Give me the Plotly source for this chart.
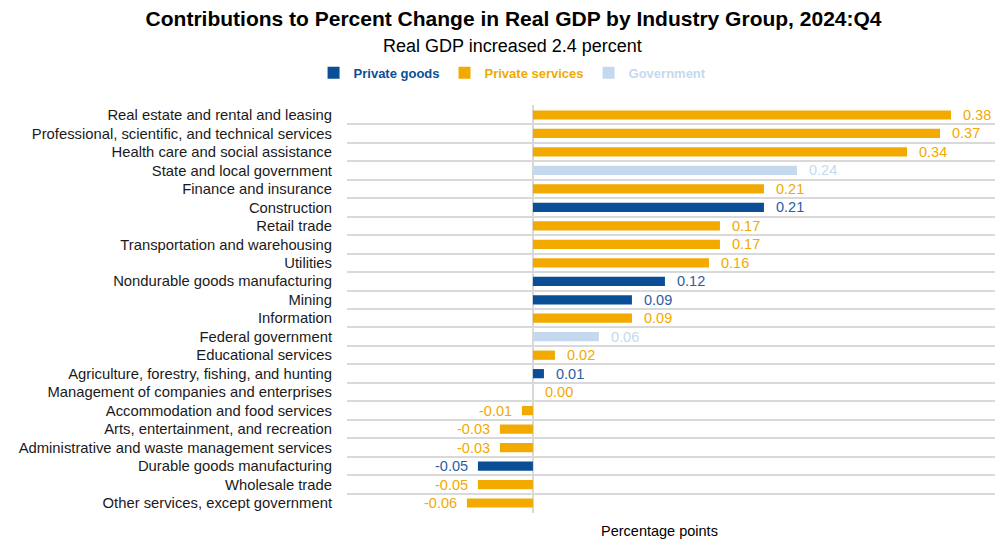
import plotly.graph_objects as go

categories = [
    "Real estate and rental and leasing",
    "Professional, scientific, and technical services",
    "Health care and social assistance",
    "State and local government",
    "Finance and insurance",
    "Construction",
    "Retail trade",
    "Transportation and warehousing",
    "Utilities",
    "Nondurable goods manufacturing",
    "Mining",
    "Information",
    "Federal government",
    "Educational services",
    "Agriculture, forestry, fishing, and hunting",
    "Management of companies and enterprises",
    "Accommodation and food services",
    "Arts, entertainment, and recreation",
    "Administrative and waste management services",
    "Durable goods manufacturing",
    "Wholesale trade",
    "Other services, except government",
]
values = [0.38, 0.37, 0.34, 0.24, 0.21, 0.21, 0.17, 0.17, 0.16, 0.12, 0.09, 0.09,
          0.06, 0.02, 0.01, 0.00, -0.01, -0.03, -0.03, -0.05, -0.05, -0.06]
groups = ["S", "S", "S", "G", "S", "P", "S", "S", "S", "P", "P", "S",
          "G", "S", "P", "S", "S", "S", "S", "P", "S", "S"]

group_names = {"P": "Private goods", "S": "Private services", "G": "Government"}
bar_colors = {"P": "#0b4e98", "S": "#f2a900", "G": "#c5d9ee"}
label_colors = {"P": "#2a5ea3", "S": "#f2a900", "G": "#c5d9ee"}

FONT = "Liberation Sans, Arial"

fig = go.Figure()
for g in ["P", "S", "G"]:
    xs = [v for v, gg in zip(values, groups) if gg == g]
    ys = [c for c, gg in zip(categories, groups) if gg == g]
    fig.add_trace(go.Bar(
        x=xs, y=ys, orientation="h",
        marker=dict(color=bar_colors[g], line=dict(width=0)),
        name="<b><span style='color:%s'>%s</span></b>" % (bar_colors[g], group_names[g]),
        hoverinfo="x+y",
    ))

for c, v, g in zip(categories, values, groups):
    fig.add_annotation(
        x=v, y=c, xref="x", yref="y",
        text="%.2f" % v,
        showarrow=False,
        xanchor="right" if v < 0 else "left",
        xshift=-8 if v < 0 else 10,
        font=dict(family=FONT, size=14.5, color=label_colors[g]),
    )

fig.add_annotation(
    text="Real GDP increased 2.4 percent",
    xref="paper", yref="paper", x=(512 - 347) / 648, y=1.0, yshift=59,
    xanchor="center", yanchor="middle", showarrow=False,
    font=dict(family=FONT, size=18, color="#000000"),
)
fig.add_annotation(
    text="Percentage points",
    xref="paper", yref="paper", x=(659 - 347) / 648, y=0.0, yshift=-18,
    xanchor="center", yanchor="middle", showarrow=False,
    font=dict(family=FONT, size=14.5, color="#000000"),
)

fig.update_layout(
    width=1007, height=539,
    margin=dict(l=347, r=12, t=105, b=26),
    paper_bgcolor="white", plot_bgcolor="white",
    barmode="relative", bargap=0.5,
    title=dict(
        text="<b>Contributions to Percent Change in Real GDP by Industry Group, 2024:Q4</b>",
        x=0.51, xanchor="center", y=0.965, yanchor="middle",
        font=dict(family=FONT, size=21, color="#000000"),
    ),
    legend=dict(
        orientation="h", xref="container", yref="container",
        x=0.509, xanchor="center", y=0.865, yanchor="middle",
        font=dict(family=FONT, size=13),
        itemsizing="constant", traceorder="normal",
        itemwidth=30,
    ),
    showlegend=True,
    font=dict(family=FONT, size=14, color="#000000"),
)
fig.update_xaxes(
    range=[-0.169, 0.42],
    showticklabels=False, showgrid=False,
    zeroline=True, zerolinecolor="#d9d9d9", zerolinewidth=2,
    fixedrange=True,
)
fig.update_yaxes(
    categoryorder="array", categoryarray=categories, autorange="reversed",
    type="category", tickson="boundaries",
    showgrid=True, gridcolor="#d9d9d9", gridwidth=2,
    ticks="", ticklen=0, ticklabelstandoff=14,
    tickfont=dict(family=FONT, size=14.8, color="#1a1a1a"),
    showline=False, zeroline=False,
)

fig.write_html("out.html")
